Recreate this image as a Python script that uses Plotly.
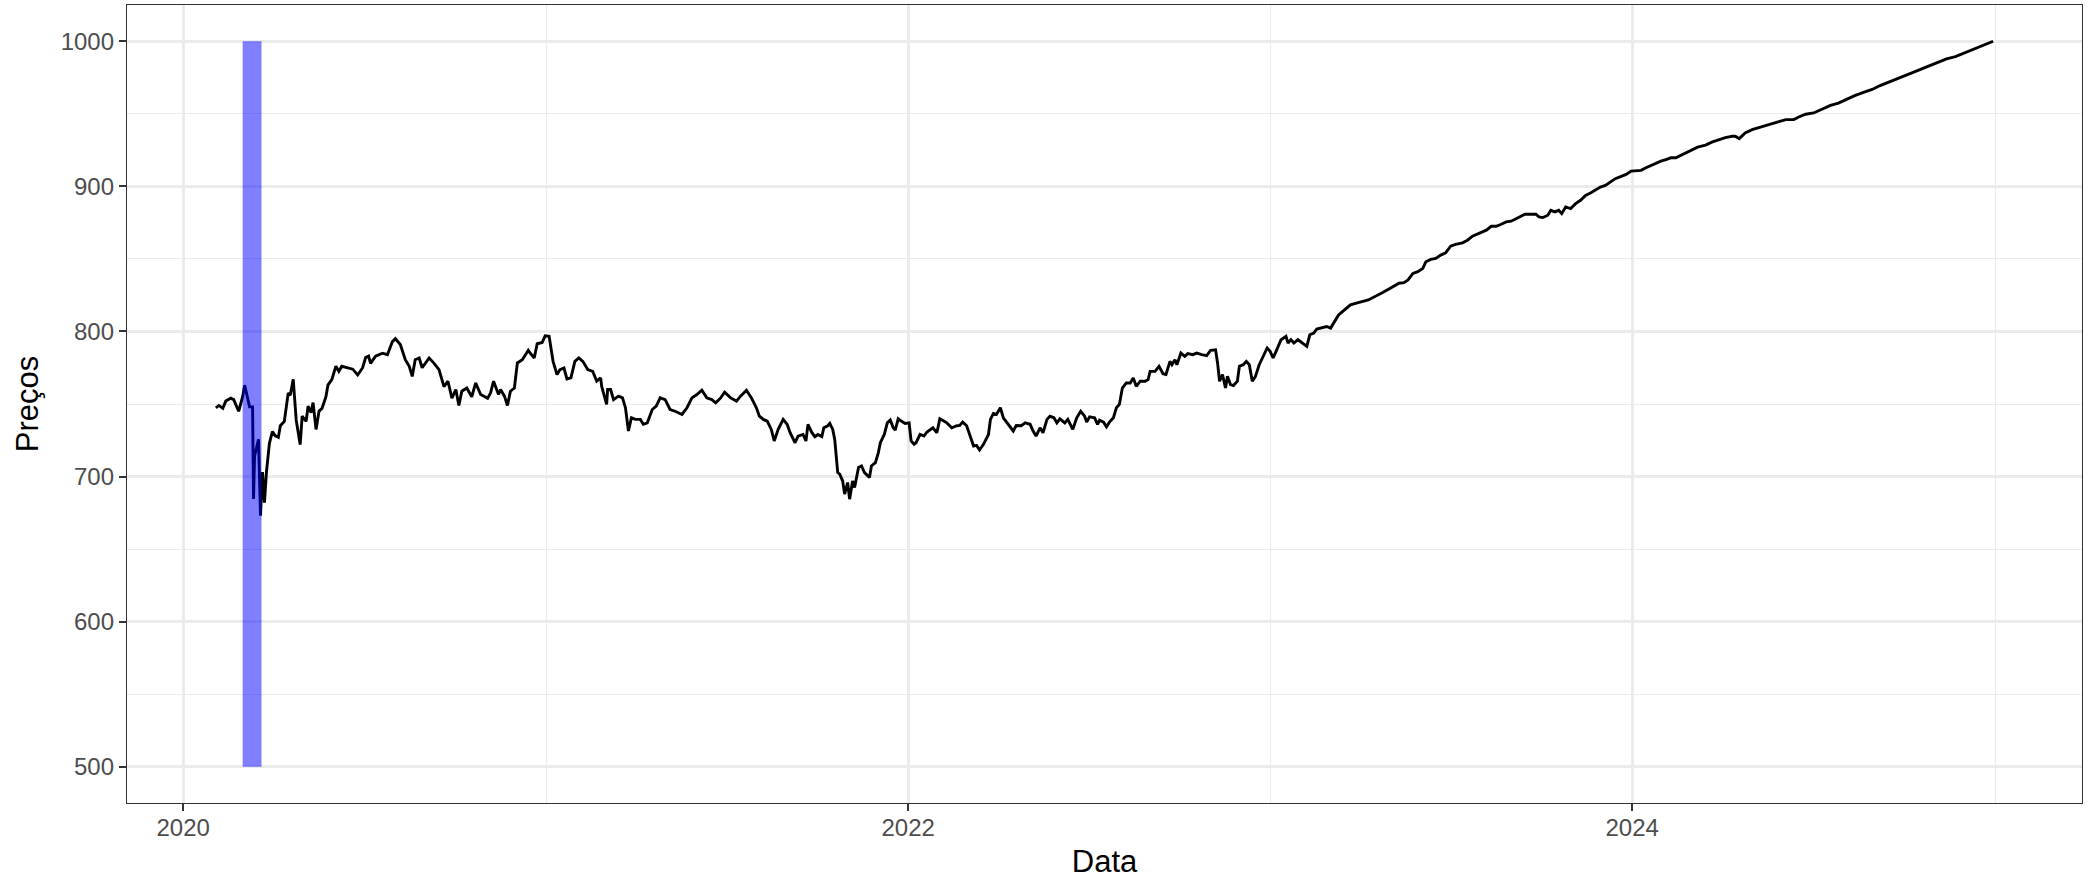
import pandas as pd
import plotly.graph_objects as go

# Price series, one list pair per year
datas_2020 = [
    "2020-02-03", "2020-02-06", "2020-02-10", "2020-02-13", "2020-02-18", "2020-02-21",
    "2020-02-26", "2020-03-01", "2020-03-03", "2020-03-06", "2020-03-08", "2020-03-11",
    "2020-03-12", "2020-03-13", "2020-03-17", "2020-03-19", "2020-03-21", "2020-03-23",
    "2020-03-25", "2020-03-28", "2020-03-31", "2020-04-03", "2020-04-06", "2020-04-08",
    "2020-04-12", "2020-04-16", "2020-04-18", "2020-04-21", "2020-04-24", "2020-04-28",
    "2020-04-30", "2020-05-04", "2020-05-06", "2020-05-09", "2020-05-11", "2020-05-14",
    "2020-05-17", "2020-05-20", "2020-05-24", "2020-05-26", "2020-05-30", "2020-06-03",
    "2020-06-06", "2020-06-09", "2020-06-15", "2020-06-20", "2020-06-25", "2020-06-30",
    "2020-07-03", "2020-07-06", "2020-07-08", "2020-07-13", "2020-07-20", "2020-07-25",
    "2020-07-30", "2020-08-02", "2020-08-07", "2020-08-12", "2020-08-16", "2020-08-19",
    "2020-08-22", "2020-08-26", "2020-08-29", "2020-09-05", "2020-09-10", "2020-09-15",
    "2020-09-20", "2020-09-24", "2020-09-28", "2020-10-02", "2020-10-05", "2020-10-08",
    "2020-10-13", "2020-10-18", "2020-10-22", "2020-10-27", "2020-11-03", "2020-11-06",
    "2020-11-09", "2020-11-14", "2020-11-16", "2020-11-20", "2020-11-23", "2020-11-26",
    "2020-11-30", "2020-12-03", "2020-12-08", "2020-12-10", "2020-12-14", "2020-12-16",
    "2020-12-20", "2020-12-23", "2020-12-28", "2020-12-31",
]
precos_2020 = [
    747.4, 749, 747, 752, 754, 753,
    745, 755, 763, 753, 748, 748,
    684.5, 714, 725.6, 673, 703, 682,
    703, 723, 731, 728, 727, 735,
    738, 757.7, 756, 767, 739, 722,
    741.6, 738, 748.5, 744, 751, 732.5,
    745, 747, 755, 763, 767, 776,
    772.5, 776, 775, 774, 770, 775,
    782, 783, 778, 783, 785, 784,
    793, 795, 791, 780.5, 776, 769,
    780.5, 781.7, 775, 781.7, 778, 773.7,
    762, 765.7, 754, 760, 749, 758.8,
    761, 755, 764.5, 756.5, 754, 757.7,
    765.7, 756.5, 760, 755.4, 749, 758.8,
    761, 778.3, 780.5, 782.8, 787, 785,
    781.7, 791.5, 792.4, 797,
]

datas_2021 = [
    "2021-01-04", "2021-01-08", "2021-01-12", "2021-01-15", "2021-01-19", "2021-01-22",
    "2021-01-26", "2021-01-30", "2021-02-03", "2021-02-07", "2021-02-12", "2021-02-17",
    "2021-02-21", "2021-02-25", "2021-02-26", "2021-03-03", "2021-03-04", "2021-03-07",
    "2021-03-10", "2021-03-15", "2021-03-19", "2021-03-22", "2021-03-25", "2021-03-28",
    "2021-04-01", "2021-04-06", "2021-04-09", "2021-04-13", "2021-04-18", "2021-04-22",
    "2021-04-26", "2021-05-01", "2021-05-06", "2021-05-11", "2021-05-18", "2021-05-23",
    "2021-05-28", "2021-06-02", "2021-06-07", "2021-06-12", "2021-06-17", "2021-06-21",
    "2021-06-26", "2021-06-30", "2021-07-06", "2021-07-12", "2021-07-16", "2021-07-22",
    "2021-07-27", "2021-08-01", "2021-08-04", "2021-08-08", "2021-08-12", "2021-08-16",
    "2021-08-19", "2021-08-23", "2021-08-28", "2021-09-01", "2021-09-04", "2021-09-09",
    "2021-09-12", "2021-09-17", "2021-09-20", "2021-09-22", "2021-09-26", "2021-09-29",
    "2021-10-02", "2021-10-06", "2021-10-08", "2021-10-12", "2021-10-14", "2021-10-17",
    "2021-10-19", "2021-10-22", "2021-10-24", "2021-10-27", "2021-10-29", "2021-11-01",
    "2021-11-03", "2021-11-06", "2021-11-08", "2021-11-12", "2021-11-15", "2021-11-18",
    "2021-11-23", "2021-11-25", "2021-11-29", "2021-12-02", "2021-12-04", "2021-12-08",
    "2021-12-11", "2021-12-14", "2021-12-17", "2021-12-19", "2021-12-22", "2021-12-25",
    "2021-12-29",
]
precos_2021 = [
    796.6, 779.4, 770.3, 773.7, 774.8, 767.3,
    768, 779.4, 781.7, 779.4, 773.7, 772.5,
    765.7, 768, 762.2, 749.7, 760, 760,
    753, 755.4, 754.2, 747.4, 731.4, 740.5,
    739.4, 739.4, 736, 737, 746.2, 748.5,
    754.2, 753, 746.2, 745, 742.8, 747.4,
    754.2, 756.5, 759.5, 754.2, 753, 750.8,
    754.2, 758.1, 754.2, 752, 755.4, 759.5,
    754.2, 747.4, 741.6, 739.4, 738.2, 732.5,
    724.5, 732.5, 739.4, 736, 730.2, 723.3,
    727.9, 729, 724.5, 736, 730.2, 727.5,
    729, 727.5, 733.6, 735, 736.6, 732.5,
    725.6, 702.7, 701.6, 697, 687.9, 695.9,
    684.4, 697, 692.4, 706.2, 707.3, 702.7,
    699.3, 707.3, 709.6, 716.5, 723.3, 729,
    737, 738.9, 733.6, 732, 739.8, 738.2,
    736.6,
]

datas_2022 = [
    "2022-01-02", "2022-01-04", "2022-01-07", "2022-01-09", "2022-01-13", "2022-01-17",
    "2022-01-20", "2022-01-24", "2022-01-26", "2022-01-30", "2022-02-02", "2022-02-06",
    "2022-02-09", "2022-02-14", "2022-02-19", "2022-02-22", "2022-02-25", "2022-03-01",
    "2022-03-04", "2022-03-08", "2022-03-11", "2022-03-14", "2022-03-18", "2022-03-23",
    "2022-03-25", "2022-03-28", "2022-03-31", "2022-04-04", "2022-04-07", "2022-04-12",
    "2022-04-17", "2022-04-20", "2022-04-25", "2022-04-29", "2022-05-04", "2022-05-07",
    "2022-05-10", "2022-05-14", "2022-05-17", "2022-05-21", "2022-05-24", "2022-05-28",
    "2022-05-31", "2022-06-03", "2022-06-08", "2022-06-11", "2022-06-16", "2022-06-20",
    "2022-06-24", "2022-06-28", "2022-06-30", "2022-07-03", "2022-07-08", "2022-07-11",
    "2022-07-13", "2022-07-17", "2022-07-20", "2022-07-23", "2022-07-27", "2022-07-30",
    "2022-08-02", "2022-08-05", "2022-08-09", "2022-08-13", "2022-08-16", "2022-08-19",
    "2022-08-23", "2022-08-28", "2022-08-31", "2022-09-02", "2022-09-07", "2022-09-11",
    "2022-09-15", "2022-09-18", "2022-09-22", "2022-09-24", "2022-09-27", "2022-09-29",
    "2022-10-03", "2022-10-07", "2022-10-10", "2022-10-15", "2022-10-19", "2022-10-24",
    "2022-10-29", "2022-11-02", "2022-11-07", "2022-11-09", "2022-11-11", "2022-11-14",
    "2022-11-17", "2022-11-19", "2022-11-22", "2022-11-25", "2022-11-29", "2022-12-01",
    "2022-12-05", "2022-12-08", "2022-12-11", "2022-12-14", "2022-12-17", "2022-12-21",
    "2022-12-25", "2022-12-29",
]
precos_2022 = [
    737, 724.5, 722.2, 723.3, 729, 727.9,
    730.7, 732.5, 733.6, 730.2, 739.8, 738.2,
    737, 733.6, 735, 735.2, 737.5, 735,
    729, 721, 721.5, 718.3, 722.2, 729,
    739.4, 743.5, 742.8, 747.4, 740.5, 736,
    731.4, 735.2, 735, 737, 736, 731.4,
    727.9, 733.6, 730.2, 739.4, 741.6, 740.5,
    737, 739.8, 737, 739.4, 732.5, 740.5,
    745, 741.6, 737.5, 741.2, 740.5, 736,
    738.9, 737.5, 734.3, 737.5, 740.5, 747.4,
    749.7, 761, 764.5, 764.5, 768, 762.2,
    765.7, 765.7, 766.8, 772.5, 772.5, 776,
    770.9, 770.3, 779.4, 777.1, 780.5, 777.1,
    785.1, 782.8, 784.7, 784, 785.1, 784,
    783.3, 787, 787.4, 778.3, 765.7, 770.3,
    761.1, 769.1, 763.4, 762.7, 765.7, 776,
    777.1, 779.4, 777.1, 765.7, 768.7, 777.1,
    782.8, 788.6,
]

datas_2023 = [
    "2023-01-01", "2023-01-04", "2023-01-07", "2023-01-12", "2023-01-17", "2023-01-19",
    "2023-01-22", "2023-01-25", "2023-01-29", "2023-02-03", "2023-02-07", "2023-02-10",
    "2023-02-14", "2023-02-17", "2023-02-22", "2023-02-27", "2023-03-03", "2023-03-07",
    "2023-03-11", "2023-03-17", "2023-03-23", "2023-03-29", "2023-04-04", "2023-04-10",
    "2023-04-25", "2023-05-11", "2023-05-16", "2023-05-20", "2023-05-25", "2023-05-30",
    "2023-06-04", "2023-06-07", "2023-06-12", "2023-06-17", "2023-06-22", "2023-06-27",
    "2023-07-02", "2023-07-07", "2023-07-14", "2023-07-19", "2023-07-24", "2023-07-29",
    "2023-08-03", "2023-08-07", "2023-08-12", "2023-08-17", "2023-08-22", "2023-08-27",
    "2023-09-01", "2023-09-06", "2023-09-11", "2023-09-15", "2023-09-21", "2023-09-26",
    "2023-09-29", "2023-10-03", "2023-10-08", "2023-10-11", "2023-10-15", "2023-10-19",
    "2023-10-22", "2023-10-26", "2023-10-31", "2023-11-05", "2023-11-10", "2023-11-15",
    "2023-11-20", "2023-11-25", "2023-11-30", "2023-12-05", "2023-12-10", "2023-12-15",
    "2023-12-21", "2023-12-26", "2023-12-31",
]
precos_2023 = [
    786.3, 781.7, 786.3, 794.3, 796.6, 792,
    794.3, 792, 794.3, 792, 789.7, 797.7,
    798.9, 801.6, 802.3, 803.4, 802.3, 806.9,
    811.4, 814.9, 818.3, 819.5, 820.6, 821.7,
    827, 833.2, 833.6, 835.5, 840, 841.2,
    843.5, 848, 849.7, 850.3, 852.6, 854.2,
    858.8, 860, 861.1, 862.9, 865.7, 867,
    868.6, 869.8, 872.5, 872.5, 873.9, 875.5,
    876, 877.6, 879, 880.8, 880.8, 880.8,
    879, 878.5, 880.1, 883.5, 882.4, 883.5,
    881.2, 885.8, 884.7, 888.1, 890.4, 893.8,
    895.4, 897.3, 899.5, 900.7, 903, 905.3,
    906.9, 908.2, 910.5,
]

datas_2024 = [
    "2024-01-05", "2024-01-10", "2024-01-15", "2024-01-20", "2024-01-25", "2024-01-30",
    "2024-02-04", "2024-02-09", "2024-02-14", "2024-02-19", "2024-02-24", "2024-02-29",
    "2024-03-07", "2024-03-15", "2024-03-22", "2024-03-29", "2024-04-04", "2024-04-11",
    "2024-04-14", "2024-04-18", "2024-04-24", "2024-05-01", "2024-05-08", "2024-05-15",
    "2024-05-21", "2024-05-28", "2024-06-04", "2024-06-12", "2024-06-17", "2024-06-24",
    "2024-07-02", "2024-07-11", "2024-07-19", "2024-07-27", "2024-08-05", "2024-08-13",
    "2024-08-22", "2024-08-30", "2024-09-07", "2024-09-16", "2024-09-24", "2024-10-03",
    "2024-10-11", "2024-10-19", "2024-10-28", "2024-11-05", "2024-11-13", "2024-11-22",
    "2024-11-30", "2024-12-09", "2024-12-17", "2024-12-24", "2024-12-30",
]
precos_2024 = [
    910.5, 911, 912.8, 914.4, 916, 917.4,
    918.5, 919.7, 919.7, 921.3, 922.9, 924.7,
    927, 928.4, 930.6, 932.2, 933.6, 934.5,
    934.5, 932.9, 936.8, 939.1, 940.4, 941.8,
    943.2, 944.6, 946, 946, 947.8, 949.7,
    950.6, 953.6, 955.8, 957.4, 960.4, 962.7,
    965, 966.8, 969.5, 971.8, 974.1, 976.4,
    978.7, 981, 983.3, 985.6, 987.8, 989.4,
    991.7, 994, 996.3, 998.6, 1000,
]

# Shaded period (geom_rect)
faixa_inicio = "2020-03-01"
faixa_fim = "2020-03-20"
faixa_ymin = 500
faixa_ymax = 1000

df = pd.DataFrame({
    "data": pd.to_datetime(datas_2020 + datas_2021 + datas_2022 + datas_2023 + datas_2024),
    "preco": precos_2020 + precos_2021 + precos_2022 + precos_2023 + precos_2024,
})

# ggplot-style 5% expansion of the x range
span = df["data"].max() - df["data"].min()
x_range = [df["data"].min() - span * 0.05, df["data"].max() + span * 0.05]
y_span = faixa_ymax - faixa_ymin
y_range = [faixa_ymin - y_span * 0.05, faixa_ymax + y_span * 0.05]

fig = go.Figure()
fig.add_trace(go.Scatter(
    x=df["data"], y=df["preco"], mode="lines",
    line=dict(color="black", width=2.9),
    showlegend=False, hoverinfo="x+y",
))

# Blue translucent rectangle drawn over the line
fig.add_shape(
    type="rect", xref="x", yref="y",
    x0=faixa_inicio, x1=faixa_fim, y0=faixa_ymin, y1=faixa_ymax,
    fillcolor="blue", opacity=0.5, line_width=0, layer="above",
)

FONT = "Liberation Sans, Arial, Helvetica, sans-serif"

fig.update_layout(
    width=2088, height=880,
    margin=dict(l=127, r=6, t=5, b=77),
    paper_bgcolor="white", plot_bgcolor="white",
    font=dict(family=FONT, color="black"),
)
fig.update_xaxes(
    range=x_range, type="date",
    tick0="2020-01-01", dtick="M24", tickformat="%Y",
    showgrid=True, gridcolor="#EBEBEB", gridwidth=2.7,
    minor=dict(dtick="M12", showgrid=True, gridcolor="#EBEBEB", gridwidth=1.4),
    showline=True, linecolor="#333333", linewidth=1.3, mirror=True,
    ticks="outside", ticklen=7, tickwidth=1.6, tickcolor="#333333",
    tickfont=dict(size=24, color="#4D4D4D", family=FONT),
    ticklabelstandoff=-4,
    title=dict(text="Data", font=dict(size=31, color="black", family=FONT), standoff=10),
    zeroline=False, automargin=False,
)
fig.update_yaxes(
    range=y_range, tick0=500, dtick=100,
    showgrid=True, gridcolor="#EBEBEB", gridwidth=2.7,
    minor=dict(dtick=50, showgrid=True, gridcolor="#EBEBEB", gridwidth=1.4),
    showline=True, linecolor="#333333", linewidth=1.3, mirror=True,
    ticks="outside", ticklen=7, tickwidth=1.6, tickcolor="#333333",
    tickfont=dict(size=24, color="#4D4D4D", family=FONT),
    title=dict(text="Preços", font=dict(size=31, color="black", family=FONT), standoff=12),
    zeroline=False, automargin=False,
)

# drop the browser's default 8px body margin so the figure sits at the page corner
fig.write_html(
    "out.html",
    config={"displayModeBar": False},
    post_script="document.body.style.margin='0px';",
)
